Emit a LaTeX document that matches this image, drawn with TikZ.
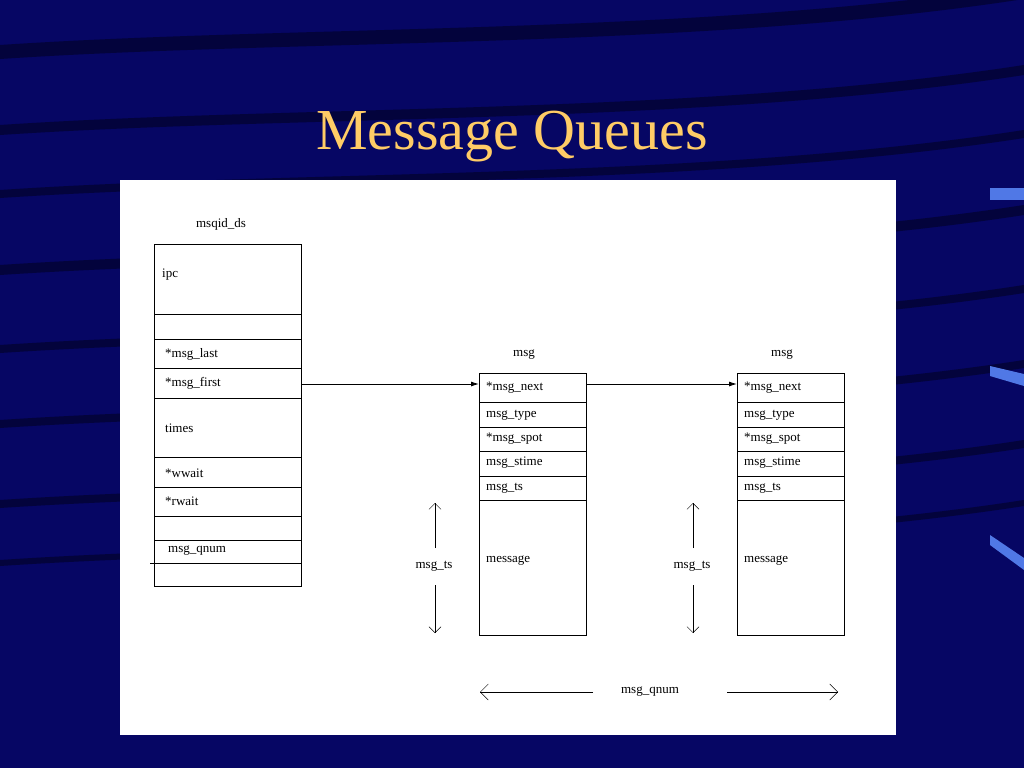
\documentclass[tikz,border=0pt]{standalone}
\usepackage{fontspec}
\setmainfont{Liberation Serif}
\usetikzlibrary{arrows.meta}
\definecolor{bg}{RGB}{6,6,100}
\definecolor{streak}{RGB}{3,3,60}
\definecolor{titlec}{RGB}{255,204,102}
\definecolor{deco}{RGB}{80,120,230}
\tikzset{lbl/.style={font=\fontsize{13}{15}\selectfont, anchor=west, inner sep=0pt},
 captext/.style={font=\fontsize{13}{15}\selectfont, inner sep=0pt},
 ln/.style={line width=0.9pt, black}}
\begin{document}
\begin{tikzpicture}[x=1pt,y=-1pt]
\useasboundingbox (0,0) rectangle (1024,768);
\fill[bg] (0,0) rectangle (1024,768);
\foreach \y/\w in {45/14,125/10,190/8,265/10,345/8,420/8,500/8,560/6} {
  \fill[streak] (0,\y) .. controls (300,\y-20) and (700,\y-10) .. (1024,\y-60) -- (1024,\y-60+\w) .. controls (700,\y-10+\w) and (300,\y-20+\w) .. (0,\y+\w) -- cycle;}
\fill[deco] (990,188) rectangle (1024,200);
\fill[deco] (990,366) -- (1024,374) -- (1024,386) -- (990,376) -- cycle;
\fill[deco] (990,535) -- (1024,558) -- (1024,570) -- (990,545) -- cycle;
\node[text=titlec, font=\fontsize{58}{64}\selectfont] (title) at (512,137) {Message Queues};
\fill[white] (120,180) rectangle (896,735);
% left table
\draw[ln] (154,244) rectangle (301,586);
\foreach \y in {314,339,368,398,457,487,516,540,563} \draw[ln] (154,\y) -- (301,\y);
\draw[ln] (150,563) -- (154,563);
\node[captext] (msqid) at (221,224) {msqid\_ds};
\node[lbl] (ipc) at (162,275) {ipc};
\node[lbl] (mlast) at (165,354) {*msg\_last};
\node[lbl] (mfirst) at (165,383) {*msg\_first};
\node[lbl] (times) at (165,428) {times};
\node[lbl] (wwait) at (165,473) {*wwait};
\node[lbl] (rwait) at (165,501) {*rwait};
\node[lbl] (qnum) at (168,551) {msg\_qnum};
\coordinate (lt) at (301,384);
% boxes
\foreach \x/\n in {479/a,737/b} {
 \draw[ln] (\x,373) rectangle ++(107,262);
 \foreach \y in {402,427,451,476,500} \draw[ln] (\x,\y) -- ++(107,0);
 \node[captext] (h\n) at (\x+45,355) {msg};
 \node[lbl] (n\n) at (\x+7,388) {*msg\_next};
 \node[lbl] (t\n) at (\x+7,415) {msg\_type};
 \node[lbl] (s\n) at (\x+7,439) {*msg\_spot};
 \node[lbl] (st\n) at (\x+7,463) {msg\_stime};
 \node[lbl] (ts\n) at (\x+7,488) {msg\_ts};
 \node[lbl] (m\n) at (\x+7,561) {message};
 \coordinate (L\n) at (\x,384);
 \coordinate (R\n) at (\x+107,384);
}
\draw[ln,-{Latex[length=8pt,width=5pt]}] (lt) -- (La);
\draw[ln,-{Latex[length=8pt,width=5pt]}] (Ra) -- (Lb);
% msg_ts arrows
\foreach \x/\n in {434/1,692/2} {
 \node[captext] (mts\n) at (\x,566) {msg\_ts};
 \coordinate (u\n) at (\x+1,503); \coordinate (d\n) at (\x+1,633);
 \draw[thin,-{Straight Barb[length=6pt]}] (\x+1,548) -- (u\n);
 \draw[thin,-{Straight Barb[length=6pt]}] (\x+1,585) -- (d\n);
}
\node[captext] (bq) at (650,692) {msg\_qnum};
\coordinate (bl) at (480,692); \coordinate (br) at (838,692);
\draw[thin,-{Straight Barb[length=8pt]}] (593,692) -- (bl);
\draw[thin,-{Straight Barb[length=8pt]}] (727,692) -- (br);
\end{tikzpicture}
\end{document}
